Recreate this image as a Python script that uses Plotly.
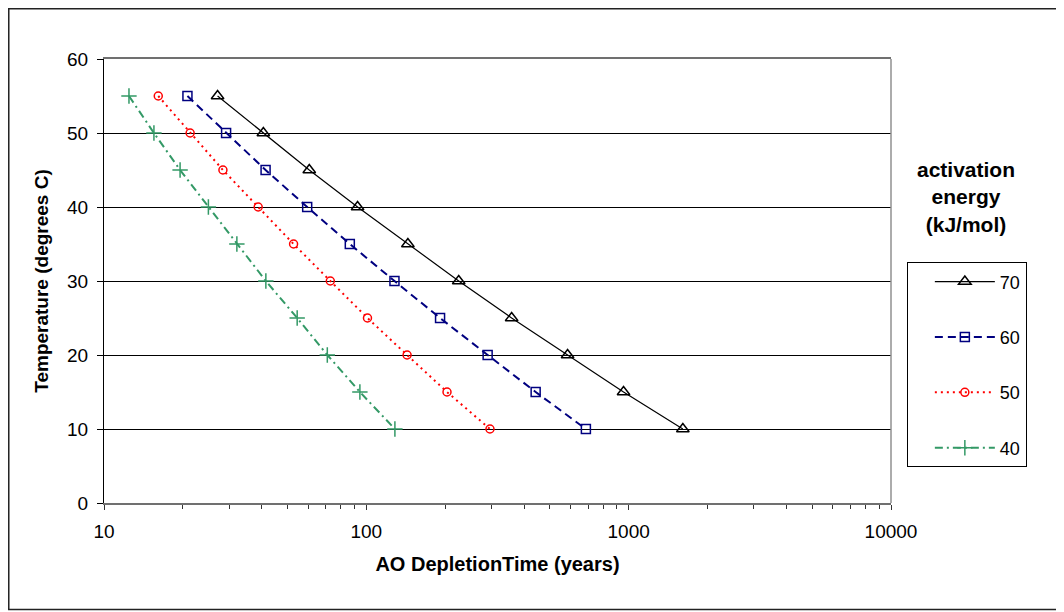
import plotly.graph_objects as go

# ---- data ----
temperature = [55, 50, 45, 40, 35, 30, 25, 20, 15, 10]
series_names = ["70", "60", "50", "40"]
time_70 = [27.1, 40.5, 60.6, 92.6, 144, 225, 358, 585, 956, 1609]
time_60 = [20.8, 29.2, 41.3, 59.5, 86.5, 128, 191, 290, 442, 687]
time_50 = [16.1, 21.3, 28.4, 38.7, 52.8, 72.9, 101, 143, 203, 296]
time_40 = [12.45, 15.5, 19.5, 25.0, 32.1, 41.4, 54.5, 71.0, 94.5, 128.5]
x_tick_vals = [10, 100, 1000, 10000]
x_tick_text = ["10", "100", "1000", "10000"]
y_tick_vals = [0, 10, 20, 30, 40, 50, 60]

series_times = [time_70, time_60, time_50, time_40]
styles = [
    dict(color="#000000", dash="solid", width=1.2, symbol="triangle-up-open", size=11),
    dict(color="#000080", dash="8px,5px", width=2, symbol="square-open", size=9),
    dict(color="#FF0000", dash="2px,4px", width=2, symbol="circle-open", size=8),
    dict(color="#339966", dash="8px,4px,2px,4px", width=2, symbol="cross-thin-open", size=11),
]

FONT = "Liberation Sans, Arial, sans-serif"

fig = go.Figure()
for name, times, st in zip(series_names, series_times, styles):
    fig.add_trace(go.Scatter(
        x=times, y=temperature, name=name, mode="lines+markers",
        legendgroup=name,
        line=dict(color=st["color"], dash=st["dash"], width=st["width"]),
        marker=dict(symbol=st["symbol"], size=st["size"],
                    line=dict(color=st["color"], width=1.5), color=st["color"]),
    ))

fig.update_layout(
    width=1056, height=604,
    margin=dict(l=96, r=173, t=51, b=109),
    paper_bgcolor="white", plot_bgcolor="white",
    font=dict(family=FONT, size=19, color="black"),
    showlegend=True,
    legend=dict(
        x=1.0203, y=0.5425, xanchor="left", yanchor="top",
        bordercolor="black", borderwidth=1.2, bgcolor="white",
        font=dict(size=18), tracegroupgap=29, traceorder="grouped",
        itemwidth=60, entrywidth=100, entrywidthmode="pixels",
        title=dict(text="&nbsp;&nbsp;&nbsp;", side="left", font=dict(size=14)),
    ),
    xaxis=dict(
        type="log", range=[1, 4], tickvals=x_tick_vals, ticktext=x_tick_text,
        showgrid=False, zeroline=False,
        showline=True, linecolor="#707070", linewidth=2, mirror=True,
        ticks="outside", ticklen=5, tickcolor="#333333", tickwidth=1,
        ticklabelstandoff=5,
        minor=dict(ticks="outside", ticklen=4, tickcolor="#333333", dtick="D1", showgrid=False),
        title=dict(text="<b>AO DepletionTime (years)</b>", font=dict(size=20), standoff=16),
    ),
    yaxis=dict(
        range=[0, 60], tickvals=y_tick_vals, showgrid=True, gridcolor="black", gridwidth=1,
        zeroline=False, showline=True, linecolor="black", linewidth=1.2,
        ticks="outside", ticklen=6, tickcolor="black",
        ticklabelstandoff=5,
        title=dict(text="<b>Temperature (degrees C)</b>", font=dict(size=19), standoff=13),
    ),
    shapes=[
        dict(type="line", xref="paper", yref="paper", x0=1, x1=1, y0=0, y1=1,
             line=dict(color="#909090", width=1.5)),
        dict(type="rect", xref="paper", yref="paper",
             x0=-0.1210, x1=1.2147, y0=-0.2396, y1=1.1132,
             line=dict(color="#222222", width=1.5)),
    ],
    annotations=[
        dict(text="<b>activation<br>energy<br>(kJ/mol)</b>", xref="paper", yref="paper",
             x=1.0953, y=0.689, xanchor="center", yanchor="middle", showarrow=False,
             font=dict(size=21, family=FONT), align="center"),
    ],
)

fig.write_html("out.html")
